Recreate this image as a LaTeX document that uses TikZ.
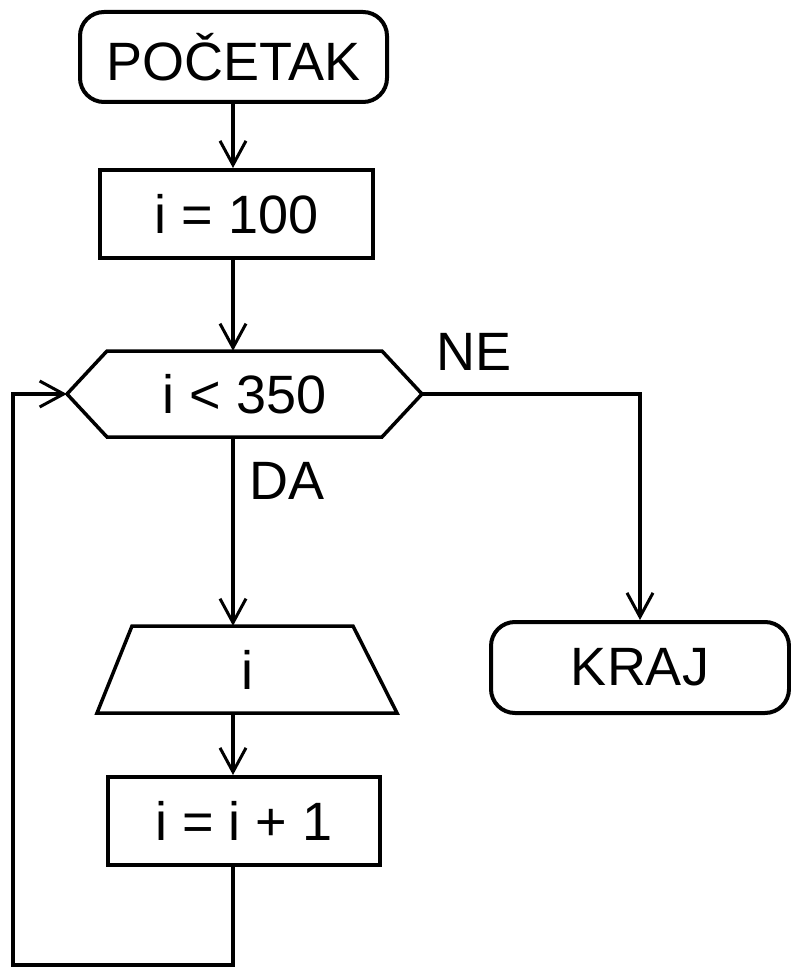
\documentclass[tikz,border=0pt]{standalone}
\usepackage{fontspec}
\setmainfont{Liberation Sans}
\usetikzlibrary{arrows.meta}
\begin{document}
\begin{tikzpicture}[x=1pt,y=-1pt,
  every node/.style={font=\fontsize{54}{60}\selectfont, inner sep=0pt},
  term/.style={draw, line width=4pt, rounded corners=24pt},
  procbox/.style={draw, line width=4pt},
  ghost/.style={},
  conn/.style={line width=4pt},
  arr/.style={conn, -{Straight Barb[length=24pt,width=26pt,line width=3pt]}},
  lbl/.style={anchor=west}]
\useasboundingbox (0,0) rectangle (790,968);
% nodes
\node[term, minimum width=307pt, minimum height=90pt] (start) at (233.5,57) {POČETAK};
\node[procbox, minimum width=273pt, minimum height=88pt] (b1) at (236.5,214) {i = 100};
\node[ghost, minimum width=355pt, minimum height=86pt] (dec) at (244.5,394) {i < 350};
\draw[line width=3.5pt] (67,394) -- (107,351) -- (382,351) -- (422,394) -- (382,437) -- (107,437) -- cycle;
\node[ghost, minimum width=300pt, minimum height=87pt] (tr) at (247,669.5) {i};
\draw[line width=3.5pt] (132,626) -- (353,626) -- (397,713) -- (97,713) -- cycle;
\node[procbox, minimum width=272pt, minimum height=88pt] (b2) at (244,821) {i = i + 1};
\node[term, minimum width=298pt, minimum height=91pt] (kraj) at (640,667.5) {KRAJ};
\node[lbl] (da) at (249,481) {DA};
\node[lbl] (ne) at (436,352) {NE};
% axis and loop coordinates
\coordinate (axis) at (233,0);
\coordinate (lb) at (233,965);
\coordinate (ll) at (13,965);
\coordinate (lt) at (13,394);
% connectors
\draw[arr] (axis |- start.south) -- (axis |- b1.north);
\draw[arr] (axis |- b1.south) -- (axis |- dec.north);
\draw[arr] (axis |- dec.south) -- (axis |- tr.north);
\draw[arr] (axis |- tr.south) -- (axis |- b2.north);
\draw[arr] (axis |- b2.south) -- (lb) -- (ll) -- (lt) -- (dec.west);
\draw[arr] (dec.east) -- (kraj.north |- dec.east) -- (kraj.north);
\end{tikzpicture}
\end{document}
